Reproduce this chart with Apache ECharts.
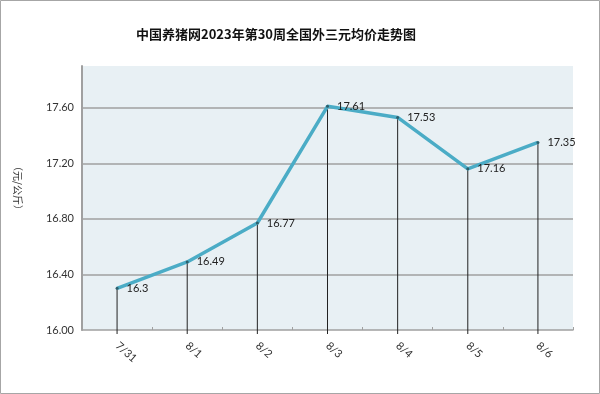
<!DOCTYPE html>
<html><head><meta charset="utf-8">
<script src="https://cdn.jsdelivr.net/npm/echarts@6/dist/echarts.min.js"></script>
<style>html,body{margin:0;padding:0;background:#fff}#c{width:600px;height:394px}</style>
</head><body><div id="c"></div>
<script>
const title = '中国养猪网2023年第30周全国外三元均价走势图';
const categories = ['7/31','8/1','8/2','8/3','8/4','8/5','8/6'];
const prices = [16.3, 16.49, 16.77, 17.61, 17.53, 17.16, 17.35];
const yMin = 16.0, yMax = 17.9, yStep = 0.4;
const yName = '（元/公斤）';

const chart = echarts.init(document.getElementById('c'));
const font = 'Lato, "Noto Sans", sans-serif';
chart.setOption({
  animation: false,
  backgroundColor: '#fff',
  title: {text: title, left: 131, top: 23,
    textStyle: {fontFamily: '"Noto Sans CJK SC", sans-serif', fontSize: 13, fontWeight: 'bold', color: '#111'}},
  graphic: [
    {type: 'rect', shape: {x: 0.5, y: 0.5, width: 599, height: 393}, style: {fill: 'none', stroke: '#a6a6a6', lineWidth: 1}, silent: true},
    {type: 'text', rotation: -Math.PI/2, originX: 0, originY: 0,
      x: 18, y: 188, style: {text: yName, fill: '#333', font: '10px "Noto Sans CJK SC", sans-serif', align: 'center', verticalAlign: 'middle'}}
  ],
  grid: {left: 82, right: 27, top: 66, bottom: 64, show: true, backgroundColor: '#e8f0f4', borderWidth: 0},
  xAxis: {
    type: 'category', data: categories, boundaryGap: true,
    axisLine: {lineStyle: {color: '#a0a0a0', width: 1.5}},
    axisTick: {show: true, inside: true, length: 3, lineStyle: {color: '#a0a0a0'}},
    axisLabel: {rotate: -42, margin: 14, color: '#333', fontSize: 11, fontFamily: font}
  },
  yAxis: {
    type: 'value', min: yMin, max: yMax, interval: yStep,
    axisLine: {show: true, lineStyle: {color: '#a0a0a0', width: 2}},
    axisTick: {show: false},
    axisLabel: {showMaxLabel: false, margin: 8, color: '#333', fontSize: 11, fontFamily: font,
      formatter: v => v.toFixed(2)},
    splitLine: {show: true, showMinLine: false, showMaxLine: false, lineStyle: {color: '#a0a0a0', width: 1.5}}
  },
  series: [
    {
      type: 'custom', z: 1,
      renderItem: function (params, api) {
        const top = api.coord([api.value(0), api.value(1)]);
        const bot = api.coord([api.value(0), yMin]);
        return {type: 'line', shape: {x1: top[0], y1: top[1], x2: bot[0], y2: bot[1] + 4},
          style: {stroke: '#222', lineWidth: 1}};
      },
      data: prices.map((p, i) => [i, p])
    },
    {
      type: 'line', z: 3, data: prices,
      symbol: 'circle', symbolSize: 3, showSymbol: true,
      itemStyle: {color: '#2d5f6c'},
      lineStyle: {color: '#4bacc6', width: 3.5},
      label: {show: true, position: 'right', distance: 8, color: '#222', fontSize: 11, fontFamily: font,
        formatter: p => String(p.value)}
    }
  ]
});
</script></body></html>
